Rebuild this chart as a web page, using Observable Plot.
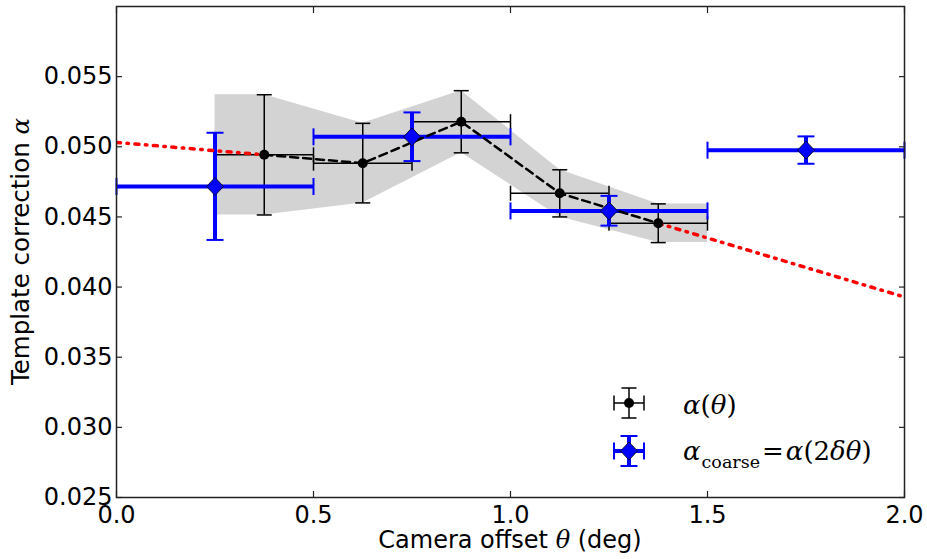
<!DOCTYPE html>
<html><head><meta charset="utf-8">
<script src="https://cdn.jsdelivr.net/npm/d3@7"></script>
<script src="https://cdn.jsdelivr.net/npm/@observablehq/plot@0.6"></script>
<style>html,body{margin:0;padding:0;background:#fff;} svg{display:block}</style>
</head><body><div id="chart"></div>
<script>
// Fine binning (black): alpha(theta)
const fineX = [0.375, 0.625, 0.875, 1.125, 1.375];
const fineY = [0.04943, 0.04883, 0.05179, 0.04669, 0.04455];
const fineLo = [0.04514, 0.04600, 0.04957, 0.04500, 0.04317];
const fineHi = [0.05371, 0.05167, 0.05400, 0.04836, 0.04593];
const fineHalfWidth = 0.125;

// Gray uncertainty band (extends flat to bin edges)
const bandX = [0.25, 0.375, 0.625, 0.875, 1.125, 1.375, 1.5];
const bandLo = [0.04514, 0.04514, 0.04600, 0.04957, 0.04500, 0.04317, 0.04317];
const bandHi = [0.05371, 0.05371, 0.05167, 0.05400, 0.04836, 0.04593, 0.04593];

// Coarse binning (blue): alpha_coarse
const coarseX = [0.25, 0.75, 1.25, 1.75];
const coarseY = [0.04717, 0.05071, 0.04543, 0.04976];
const coarseLo = [0.04336, 0.04898, 0.04438, 0.04879];
const coarseHi = [0.05100, 0.05245, 0.04650, 0.05074];
const coarseHalfWidth = 0.25;

// Red dash-dot extrapolation segments
const redSeg = ["left", "left", "right", "right"];
const redX = [0.0, 0.375, 1.375, 2.0];
const redY = [0.05031, 0.04943, 0.04455, 0.03929];

// Ticks
const xTicks = [0, 0.5, 1.0, 1.5, 2.0];
const yTicks = [0.025, 0.030, 0.035, 0.040, 0.045, 0.050, 0.055];

const fine = fineX.map((x, i) => ({x, y: fineY[i], lo: fineLo[i], hi: fineHi[i], x1: x - fineHalfWidth, x2: x + fineHalfWidth}));
const band = bandX.map((x, i) => ({x, lo: bandLo[i], hi: bandHi[i]}));
const coarse = coarseX.map((x, i) => ({x, y: coarseY[i], lo: coarseLo[i], hi: coarseHi[i], x1: x - coarseHalfWidth, x2: x + coarseHalfWidth}));
const red = redX.map((x, i) => ({x, y: redY[i], seg: redSeg[i]}));

const hcap = {draw(c, s) { const h = Math.sqrt(s / Math.PI); c.moveTo(-h, 0); c.lineTo(h, 0); }};
const vcap = {draw(c, s) { const h = Math.sqrt(s / Math.PI); c.moveTo(0, -h); c.lineTo(0, h); }};
const diamond = {draw(c, s) { const h = Math.sqrt(s / Math.PI); c.moveTo(0, -h); c.lineTo(h * 0.95, 0); c.lineTo(0, h); c.lineTo(-h * 0.95, 0); c.closePath(); }};

const BLUE = "#0000ff";
const FRAME = "#222";

const chart = Plot.plot({
  width: 927, height: 559,
  marginLeft: 116, marginRight: 23, marginTop: 6, marginBottom: 62,
  style: {fontFamily: "DejaVu Sans", fontSize: "24px", color: "black", background: "white"},
  x: {domain: [0, 2]},
  y: {domain: [0.025, 0.060]},
  marks: [
    Plot.areaY(band, {x: "x", y1: "lo", y2: "hi", fill: "#d3d3d3"}),
    // black fine-bin error bars
    Plot.ruleX(fine, {x: "x", y1: "lo", y2: "hi", stroke: "black", strokeWidth: 1.5}),
    Plot.ruleY(fine, {y: "y", x1: "x1", x2: "x2", stroke: "black", strokeWidth: 1.5}),
    Plot.dot(fine, {x: "x", y: "hi", symbol: hcap, r: 7.5, stroke: "black", strokeWidth: 1.5, fill: "none"}),
    Plot.dot(fine, {x: "x", y: "lo", symbol: hcap, r: 7.5, stroke: "black", strokeWidth: 1.5, fill: "none"}),
    Plot.dot(fine, {x: "x1", y: "y", symbol: vcap, r: 7.5, stroke: "black", strokeWidth: 1.5, fill: "none"}),
    Plot.dot(fine, {x: "x2", y: "y", symbol: vcap, r: 7.5, stroke: "black", strokeWidth: 1.5, fill: "none"}),
    // blue coarse error bars
    Plot.ruleY(coarse, {y: "y", x1: "x1", x2: "x2", stroke: BLUE, strokeWidth: 4}),
    Plot.ruleX(coarse, {x: "x", y1: "lo", y2: "hi", stroke: BLUE, strokeWidth: 4}),
    Plot.dot(coarse, {x: "x", y: "hi", symbol: hcap, r: 8.5, stroke: BLUE, strokeWidth: 2, fill: "none"}),
    Plot.dot(coarse, {x: "x", y: "lo", symbol: hcap, r: 8.5, stroke: BLUE, strokeWidth: 2, fill: "none"}),
    Plot.dot(coarse, {x: "x1", y: "y", symbol: vcap, r: 8.5, stroke: BLUE, strokeWidth: 2, fill: "none"}),
    Plot.dot(coarse, {x: "x2", y: "y", symbol: vcap, r: 8.5, stroke: BLUE, strokeWidth: 2, fill: "none"}),
    // lines
    Plot.line(fine, {x: "x", y: "y", stroke: "black", strokeWidth: 2.5, strokeDasharray: "8,5"}),
    Plot.line(red, {x: "x", y: "y", z: "seg", stroke: "red", strokeWidth: 3.5, strokeDasharray: "4,6.5,1.5,6.5", clip: true}),
    // markers
    Plot.dot(fine, {x: "x", y: "y", r: 5, fill: "black", stroke: "none"}),
    Plot.dot(coarse, {x: "x", y: "y", symbol: diamond, r: 9, fill: BLUE, stroke: "black", strokeWidth: 0.8}),
    // axes
    Plot.axisX({ticks: xTicks, tickFormat: d => d.toFixed(1), tickSize: 0, tickPadding: 8, fontSize: 24, label: null}),
    Plot.axisX({ticks: xTicks, tickFormat: () => "", tickSize: -6, stroke: FRAME, strokeWidth: 1.2, label: null}),
    Plot.axisX({anchor: "top", ticks: xTicks, tickFormat: () => "", tickSize: -6, stroke: FRAME, strokeWidth: 1.2, label: null}),
    Plot.axisY({ticks: yTicks, tickFormat: d => d.toFixed(3), tickSize: 0, tickPadding: 4, fontSize: 24, label: null}),
    Plot.axisY({ticks: yTicks, tickFormat: () => "", tickSize: -6, stroke: FRAME, strokeWidth: 1.2, label: null}),
    Plot.axisY({anchor: "right", ticks: yTicks, tickFormat: () => "", tickSize: -6, stroke: FRAME, strokeWidth: 1.2, label: null}),
    Plot.frame({stroke: FRAME, strokeWidth: 1.5})
  ]
});

document.getElementById("chart").appendChild(chart);

const svg = d3.select(chart);
const SERIF = "DejaVu Serif";

// X axis label
const xl = svg.append("text").attr("x", 510).attr("y", 548).attr("text-anchor", "middle")
  .attr("font-family", "DejaVu Sans").attr("font-size", 24).attr("fill", "black");
xl.append("tspan").text("Camera offset ");
xl.append("tspan").attr("font-family", SERIF).attr("font-style", "italic").text("θ");
xl.append("tspan").text(" (deg)");

// Y axis label
const yl = svg.append("text").attr("transform", "translate(29,251.5) rotate(-90)").attr("text-anchor", "middle")
  .attr("font-family", "DejaVu Sans").attr("font-size", 24.5).attr("fill", "black");
yl.append("tspan").text("Template correction ");
yl.append("tspan").attr("font-family", SERIF).attr("font-style", "italic").text("α");

// Legend
const lg = svg.append("g").attr("text-anchor", "start");
function errIcon(cx, cy, color, lw, capw, caplen, hw, vh) {
  lg.append("line").attr("x1", cx - hw).attr("x2", cx + hw).attr("y1", cy).attr("y2", cy).attr("stroke", color).attr("stroke-width", lw);
  lg.append("line").attr("x1", cx).attr("x2", cx).attr("y1", cy - vh).attr("y2", cy + vh).attr("stroke", color).attr("stroke-width", lw);
  [[cx - hw, cy], [cx + hw, cy]].forEach(([x, y]) => lg.append("line").attr("x1", x).attr("x2", x).attr("y1", y - caplen).attr("y2", y + caplen).attr("stroke", color).attr("stroke-width", capw));
  [[cx, cy - vh], [cx, cy + vh]].forEach(([x, y]) => lg.append("line").attr("x1", x - caplen).attr("x2", x + caplen).attr("y1", y).attr("y2", y).attr("stroke", color).attr("stroke-width", capw));
}
errIcon(629, 403, "black", 1.5, 1.5, 7.5, 15, 15);
lg.append("circle").attr("cx", 629).attr("cy", 403).attr("r", 5).attr("fill", "black");
errIcon(629, 451, BLUE, 4, 2, 8.5, 15, 15);
lg.append("path").attr("d", "M629,442L637.5,451L629,460L620.5,451Z").attr("fill", BLUE).attr("stroke", "black").attr("stroke-width", 0.8);

const t1 = lg.append("text").attr("x", 683).attr("y", 414).attr("text-anchor", "start").attr("font-family", SERIF).attr("font-size", 26).attr("fill", "black");
t1.append("tspan").attr("font-style", "italic").text("α");
t1.append("tspan").text("(");
t1.append("tspan").attr("font-style", "italic").text("θ");
t1.append("tspan").text(")");

const t2 = lg.append("text").attr("x", 683).attr("y", 460).attr("text-anchor", "start").attr("font-family", SERIF).attr("font-size", 26).attr("fill", "black");
t2.append("tspan").attr("font-style", "italic").text("α");
t2.append("tspan").attr("font-size", 17.5).attr("dy", 8).attr("dx", 1).text("coarse");
t2.append("tspan").attr("dy", -8).attr("dx", 2).text("=");
t2.append("tspan").attr("font-style", "italic").attr("dx", 2).text("α");
t2.append("tspan").text("(2");
t2.append("tspan").attr("font-style", "italic").text("δθ");
t2.append("tspan").text(")");
</script>
</body></html>
